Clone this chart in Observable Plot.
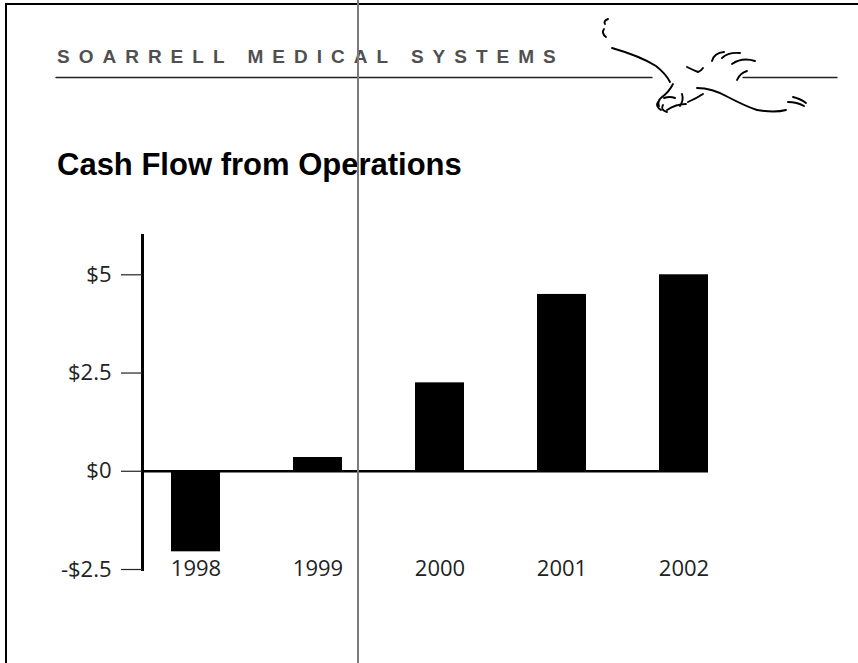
<!DOCTYPE html>
<html>
<head>
<meta charset="utf-8">
<script src="https://cdn.jsdelivr.net/npm/d3@7"></script>
<script src="https://cdn.jsdelivr.net/npm/@observablehq/plot@0.6"></script>
<style>
  html, body { margin: 0; padding: 0; background: #fff; }
  #page { position: relative; width: 858px; height: 663px; overflow: hidden; background: #fff; }
  #frame-top { position: absolute; left: 5px; top: 3px; width: 860px; height: 2px; background: #000; }
  #frame-left { position: absolute; left: 5px; top: 3px; width: 2px; height: 700px; background: #000; }
  #crop { position: absolute; left: 357px; top: 0; width: 2px; height: 663px; background: #7a7a7a; z-index: 5; }
  #company { position: absolute; left: 57px; top: 47px; line-height: 1; font-family: "Liberation Sans", Arial, sans-serif; font-weight: bold; font-size: 19px; letter-spacing: 9px; color: #505050; white-space: nowrap; }
  #title { position: absolute; left: 57px; top: 149px; line-height: 1; font-family: "Liberation Sans", Arial, sans-serif; font-weight: bold; font-size: 31px; color: #000; white-space: nowrap; }
  #logo { position: absolute; left: 0; top: 0; }
  #chart { position: absolute; left: 0; top: 200px; }
</style>
</head>
<body>
<div id="page">
  <div id="frame-top"></div>
  <div id="frame-left"></div>
  <div id="company">SOARRELL MEDICAL SYSTEMS</div>
  <svg id="logo" width="858" height="130" fill="none" stroke="#000" stroke-width="1.9" stroke-linecap="round">
    <line x1="56" y1="77.5" x2="652" y2="77.5" stroke="#222" stroke-width="1.3"/>
    <line x1="743" y1="77.5" x2="837" y2="77.5" stroke="#222" stroke-width="1.3"/>
    <path d="M608,19 Q603,21 605,24"/>
    <path d="M604,29 Q601,33 606,37"/>
    <path d="M612,48 Q640,56 656,66 Q666,74 670,82"/>
    <path d="M673,84 Q669,92 662,97 Q657,101 659,106"/>
    <path d="M664,98 Q670,96 675,98"/>
    <path d="M658,102 Q655,106 661,110"/>
    <path d="M663,105 Q660,110 667,112"/>
    <path d="M667,110 Q676,104 686,104"/>
    <path d="M682,94 Q684,100 680,106"/>
    <path d="M688,102 Q697,98 703,94"/>
    <path d="M697,88 Q712,88 728,97 Q745,106 757,110"/>
    <path d="M757,110 Q775,113 786,110"/>
    <path d="M687,67 Q693,70 698,72 Q701,71 703,68"/>
    <path d="M712,61 Q714,53 724,52"/>
    <path d="M722,58 Q728,52 740,53"/>
    <path d="M732,64 Q742,57 755,61"/>
    <path d="M737,80 Q740,73 747,71"/>
    <path d="M788,102 Q797,102 804,106"/>
    <path d="M793,97 Q801,99 806,103"/>
  </svg>
  <div id="title">Cash Flow from Operations</div>
  <div id="chart"></div>
  <div id="crop"></div>
</div>
<script>
const years = ["1998", "1999", "2000", "2001", "2002"];
const cashFlow = [-2.05, 0.35, 2.25, 4.5, 5.0];
const yTicks = [-2.5, 0, 2.5, 5];
const yDomain = [-2.5, 6];

const data = years.map((year, i) => ({year, value: cashFlow[i]}));
const fmt = d => (d < 0 ? "-$" : "$") + Math.abs(d);

const chart = Plot.plot({
  width: 858,
  height: 420,
  marginTop: 35,
  marginBottom: 51,
  marginLeft: 142,
  marginRight: 150,
  style: {fontFamily: "'Open Sans', sans-serif", fontSize: "22px", color: "#222", background: "transparent"},
  x: {domain: years, paddingInner: 0.6, paddingOuter: 0.1145, align: 1},
  y: {domain: yDomain},
  marks: [
    Plot.barY(data, {x: "year", y: "value", fill: "#000"}),
    Plot.ruleY([0], {stroke: "#000", strokeWidth: 2.6}),
    Plot.frame({anchor: "left", stroke: "#000", strokeWidth: 3}),
    Plot.axisY({ticks: yTicks, tickFormat: fmt, tickSize: 21, tickPadding: 10, stroke: "#222", strokeWidth: 1.2, label: null, fontSize: 22}),
    Plot.axisX({tickSize: 0, tickPadding: -9, label: null, fontSize: 22})
  ]
});
document.getElementById("chart").appendChild(chart);
</script>
</body>
</html>
